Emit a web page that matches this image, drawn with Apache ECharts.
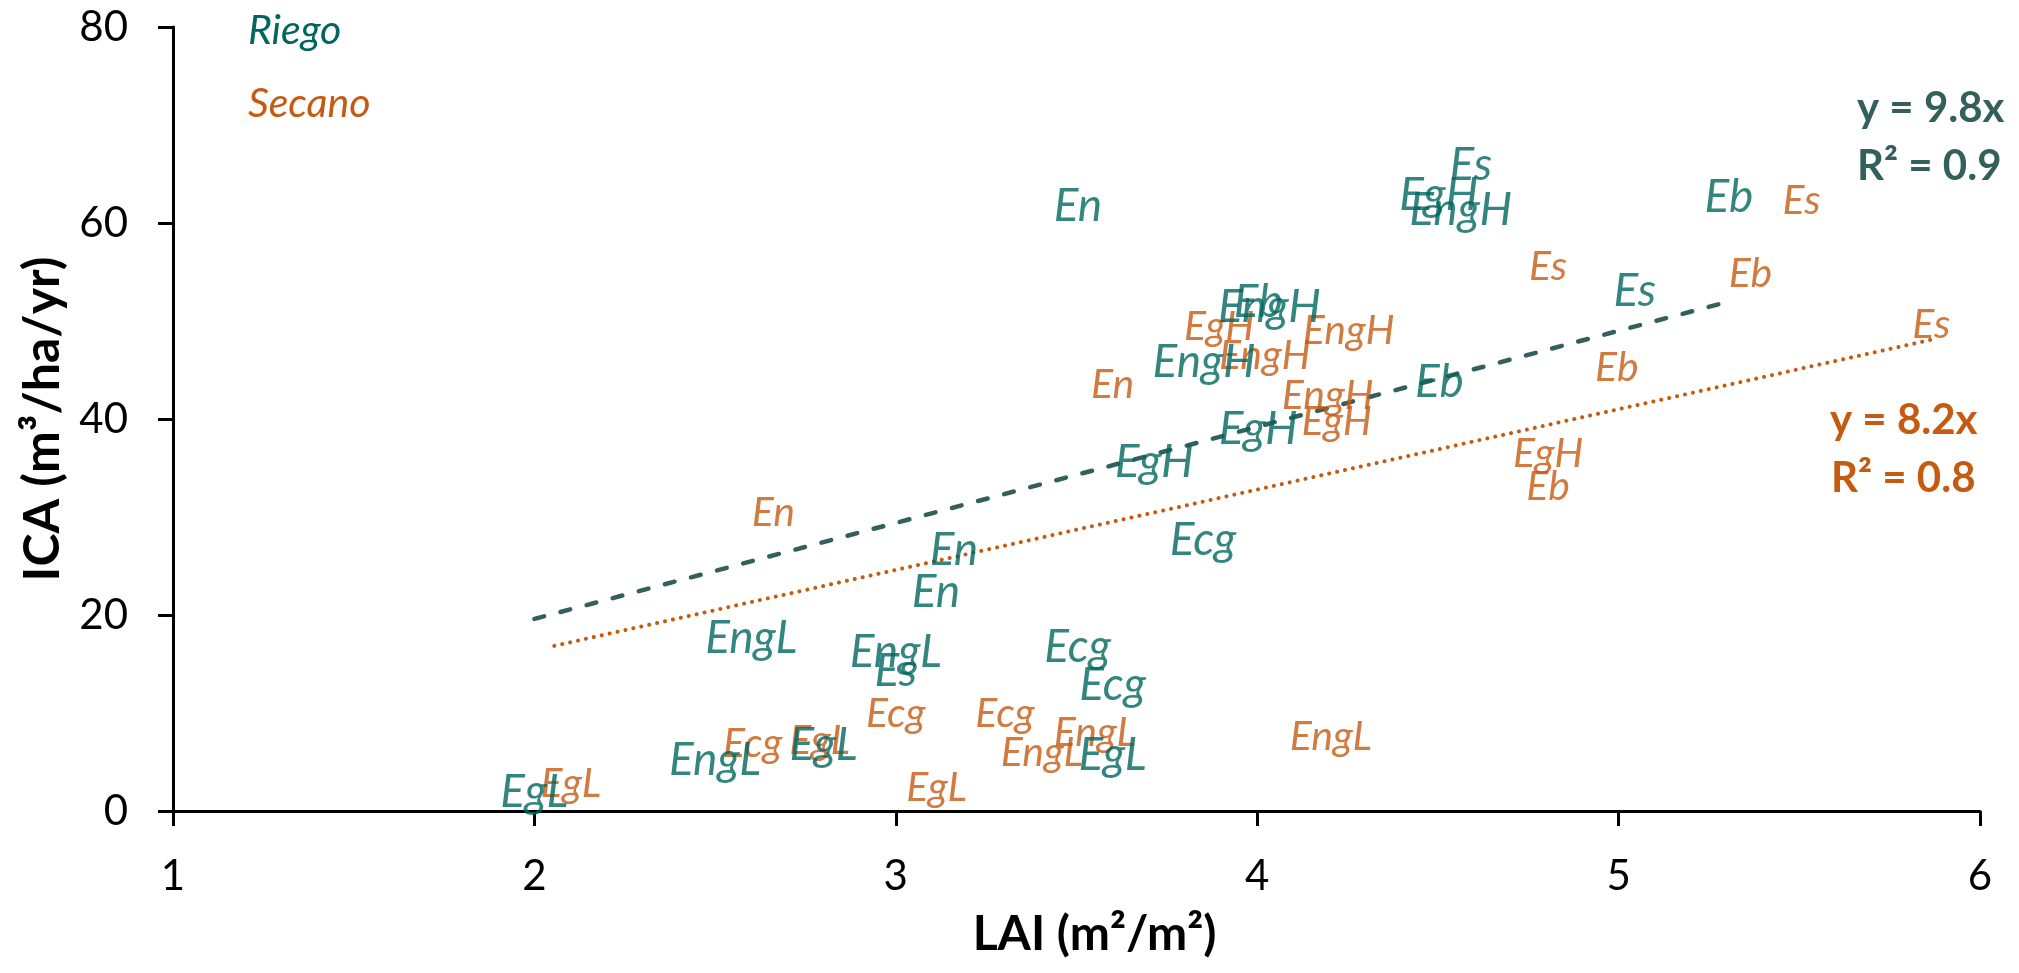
<!DOCTYPE html>
<html>
<head>
<meta charset="utf-8">
<script src="https://cdn.jsdelivr.net/npm/echarts@6/dist/echarts.min.js"></script>
<style>
html,body{margin:0;padding:0;background:#fff;}
#chart{width:2019px;height:973px;}
</style>
</head>
<body>
<div id="chart"></div>
<script>
// ---- Data ----
const xTicks = [1, 2, 3, 4, 5, 6];
const yTicks = [0, 20, 40, 60, 80];

const riegoLabels = ['En','En','En','Es','Es','Es','EgH','EgH','EgH','EngH','EngH','EngH','Eb','Eb','Eb','Ecg','Ecg','Ecg','EgL','EgL','EgL','EngL','EngL','EngL'];
const riegoLAI    = [3.504,3.161,3.111, 4.591,5.045,3.0, 4.502,4.003,3.715, 4.563,4.034,3.853, 5.305,4.003,4.504, 3.85,3.503,3.60, 3.60,2.80,2.0, 2.60,3.0,2.50];
const riegoICA    = [61.7,26.6,22.3, 65.9,53.0,14.3, 62.8,39.0,35.6, 61.3,51.4,45.8, 62.6,51.9,43.8, 27.6,16.7,12.8, 5.7,6.7,1.9, 17.6,16.2,5.2];

const secanoLabels = ['En','En','Es','Es','Es','EgH','EgH','EgH','EngH','EngH','EngH','Eb','Eb','Eb','Ecg','Ecg','Ecg','EgL','EgL','EgL','EngL','EngL','EngL'];
const secanoLAI    = [3.60,2.661, 5.506,4.805,5.865, 4.805,3.895,4.22, 4.253,4.021,4.195, 5.365,4.995,4.805, 3.0,3.302,2.604, 2.789,2.101,3.113, 3.551,3.404,4.204];
const secanoICA    = [43.5,30.4, 62.3,55.5,49.6, 36.5,49.4,39.7, 49.0,46.5,42.4, 54.8,45.2,33.1, 9.95,9.95,6.9, 7.2,2.8,2.4, 8.0,5.9,7.6];

// trendlines (y = slope * x), drawn over the x range shown in the picture
const riegoSlope = 9.8, riegoR2 = 0.9, riegoTrendX = [2.0, 5.305];
const secanoSlope = 8.2, secanoR2 = 0.8, secanoTrendX = [2.055, 5.865];

const seriesNames = ['Riego', 'Secano'];

// ---- styles ----
const TEAL = '#00665F';
const TREND_TEAL = '#33605C';
const ORANGE = '#C55A11';
const FONT = 'Lato, "Noto Sans", sans-serif';

function pts(xs, ys, labels) {
  return xs.map((x, i) => ({ value: [x, ys[i]], name: labels[i] }));
}
function trend(xr, slope) {
  return xr.map(x => [x, +(slope * x).toFixed(3)]);
}

const chart = echarts.init(document.getElementById('chart'), null, { renderer: 'canvas' });

const option = {
  backgroundColor: '#ffffff',
  animation: false,
  grid: { left: 173, right: 39, top: 27, bottom: 162, containLabel: false },
  xAxis: {
    type: 'value',
    min: xTicks[0], max: xTicks[xTicks.length - 1], interval: 1,
    name: 'LAI (m²/m²)',
    nameLocation: 'middle',
    nameGap: 100,
    nameTextStyle: { fontFamily: FONT, fontWeight: 'bold', fontSize: 48, color: '#000', padding: [0, 0, 0, 36] },
    axisLine: { lineStyle: { color: '#000', width: 3 } },
    axisTick: { show: true, inside: false, length: 15, lineStyle: { color: '#000', width: 3 } },
    axisLabel: { fontFamily: FONT, fontSize: 42, color: '#000', margin: 44 },
    splitLine: { show: false }
  },
  yAxis: {
    type: 'value',
    min: yTicks[0], max: yTicks[yTicks.length - 1], interval: 20,
    name: 'ICA (m³/ha/yr)',
    nameLocation: 'middle',
    nameGap: 105,
    nameTextStyle: { fontFamily: FONT, fontWeight: 'bold', fontSize: 50, color: '#000' },
    axisLine: { show: true, lineStyle: { color: '#000', width: 3 } },
    axisTick: { show: true, inside: false, length: 15, lineStyle: { color: '#000', width: 3 } },
    axisLabel: { fontFamily: FONT, fontSize: 42, color: '#000', margin: 45 },
    splitLine: { show: false }
  },
  series: [
    {
      name: seriesNames[0] + ' tendencia',
      type: 'line',
      data: trend(riegoTrendX, riegoSlope),
      symbol: 'none',
      silent: true,
      z: 1,
      lineStyle: { color: TREND_TEAL, width: 4.5, type: [10, 17], cap: 'round' }
    },
    {
      name: seriesNames[1] + ' tendencia',
      type: 'line',
      data: trend(secanoTrendX, secanoSlope),
      symbol: 'none',
      silent: true,
      z: 1,
      lineStyle: { color: ORANGE, width: 4, type: [0.1, 8], cap: 'round' }
    },
    {
      name: seriesNames[1],
      type: 'scatter',
      data: pts(secanoLAI, secanoICA, secanoLabels),
      symbolSize: 1,
      itemStyle: { color: 'rgba(0,0,0,0)' },
      z: 3,
      label: {
        show: true, position: 'inside', formatter: p => p.name,
        fontFamily: FONT, fontStyle: 'italic', fontSize: 41, color: ORANGE
      }
    },
    {
      name: seriesNames[0],
      type: 'scatter',
      data: pts(riegoLAI, riegoICA, riegoLabels),
      symbolSize: 1,
      itemStyle: { color: 'rgba(0,0,0,0)' },
      z: 4,
      label: {
        show: true, position: 'inside', formatter: p => p.name,
        fontFamily: FONT, fontStyle: 'italic', fontSize: 46, color: TEAL
      }
    }
  ],
  graphic: [
    { type: 'text', x: 248, y: 31, style: { text: seriesNames[0], font: 'italic 41px ' + FONT, fill: TEAL, textAlign: 'left', textVerticalAlign: 'middle', verticalAlign: 'middle' } },
    { type: 'text', x: 248, y: 104, style: { text: seriesNames[1], font: 'italic 41px ' + FONT, fill: ORANGE, textAlign: 'left', textVerticalAlign: 'middle', verticalAlign: 'middle' } },
    { type: 'text', x: 1857, y: 108, style: { text: 'y = ' + riegoSlope + 'x', font: 'bold 42px ' + FONT, fill: TREND_TEAL, textAlign: 'left', textVerticalAlign: 'middle', verticalAlign: 'middle' } },
    { type: 'text', x: 1857, y: 166, style: { text: 'R² = ' + riegoR2, font: 'bold 42px ' + FONT, fill: TREND_TEAL, textAlign: 'left', textVerticalAlign: 'middle', verticalAlign: 'middle' } },
    { type: 'text', x: 1830, y: 420, style: { text: 'y = ' + secanoSlope + 'x', font: 'bold 42px ' + FONT, fill: ORANGE, textAlign: 'left', textVerticalAlign: 'middle', verticalAlign: 'middle' } },
    { type: 'text', x: 1831, y: 478, style: { text: 'R² = ' + secanoR2, font: 'bold 42px ' + FONT, fill: ORANGE, textAlign: 'left', textVerticalAlign: 'middle', verticalAlign: 'middle' } }
  ]
};

chart.setOption(option);
</script>
</body>
</html>
